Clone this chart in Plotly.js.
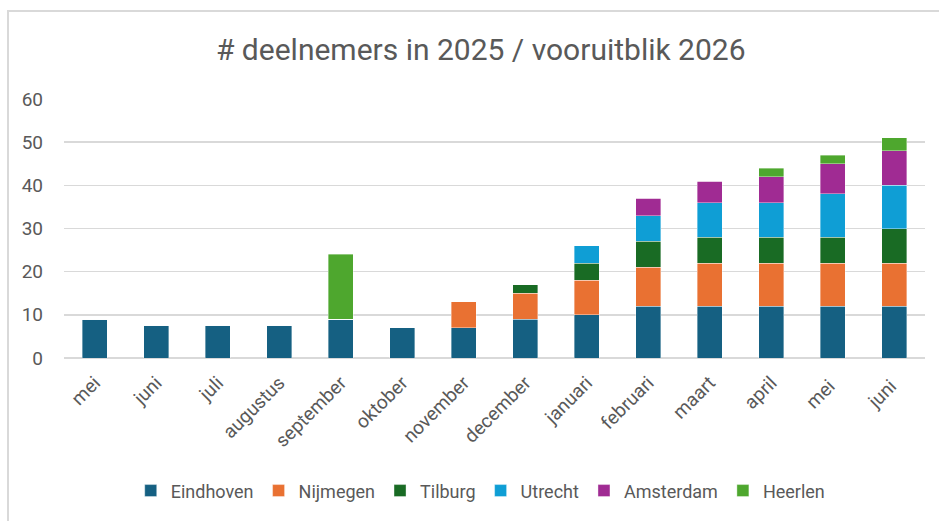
<!DOCTYPE html>
<html>
<head>
<meta charset="utf-8">
<script src="https://cdn.plot.ly/plotly-3.0.1.min.js"></script>
<style>
html,body{margin:0;padding:0;background:#fff;}
#chart{position:absolute;left:0;top:0;width:939px;height:521px;}
#frame{position:absolute;left:7px;top:10px;width:940px;height:520px;border:2px solid #d9d9d9;box-sizing:border-box;pointer-events:none;}
</style>
</head>
<body>
<div id="chart"></div>
<div id="frame"></div>
<script>
const months = ["mei","juni","juli","augustus","september","oktober","november","december","januari","februari","maart","april","mei ","juni "];
const eindhoven = [9, 7.6, 7.6, 7.6, 9, 7, 7, 9, 10, 12, 12, 12, 12, 12];
const nijmegen  = [0, 0, 0, 0, 0, 0, 6, 6, 8, 9, 10, 10, 10, 10];
const tilburg   = [0, 0, 0, 0, 0, 0, 0, 2, 4, 6, 6, 6, 6, 8];
const utrecht   = [0, 0, 0, 0, 0, 0, 0, 0, 4, 6, 8, 8, 10, 10];
const amsterdam = [0, 0, 0, 0, 0, 0, 0, 0, 0, 4, 5, 6, 7, 8];
const heerlen   = [0, 0, 0, 0, 15, 0, 0, 0, 0, 0, 0, 2, 2, 3];

const seriesNames = ["Eindhoven","Nijmegen","Tilburg","Utrecht","Amsterdam","Heerlen"];
const seriesVals = [eindhoven, nijmegen, tilburg, utrecht, amsterdam, heerlen];
const colors = ["#156082","#E97132","#196B24","#0F9ED5","#A02B93","#4EA72E"];

const traces = seriesNames.map((n,i)=>({
  type:"bar", name:n, x:months, y:seriesVals[i],
  marker:{color:colors[i], line:{color:"rgba(255,255,255,0.5)", width:0.75}},
  hoverinfo:"x+y+name"
}));

const FONT = "Aptos, Roboto, 'Liberation Sans', sans-serif";
const layout = {
  width:939, height:521,
  paper_bgcolor:"#fff", plot_bgcolor:"#fff",
  barmode:"stack", bargap:0.59,
  margin:{l:64, r:14, t:99, b:161},
  title:{text:"# deelnemers in 2025 / vooruitblik 2026", x:0.512, xanchor:"center", y:0.905, yanchor:"middle",
    font:{family:FONT, size:30, color:"#595959"}},
  xaxis:{type:"category", tickangle:-45, showgrid:false, zeroline:false, showline:false, ticks:"", automargin:false,
    ticklabelstandoff:9,
    tickfont:{family:FONT, size:19, color:"#595959"}},
  yaxis:{range:[0,60], dtick:10, showgrid:true, gridcolor:"#d9d9d9", gridwidth:1.5, zeroline:true, zerolinecolor:"#d9d9d9", zerolinewidth:1.5,
    showline:false, ticks:"", ticklabelstandoff:20, automargin:false,
    tickfont:{family:FONT, size:19, color:"#595959"}},
  showlegend:true,
  legend:{orientation:"h", x:0.484, xanchor:"center", y:-0.513, yanchor:"middle", traceorder:"normal",
    font:{family:"Roboto, sans-serif", size:18, color:"#595959"},
    itemwidth:30}
};

Plotly.newPlot("chart", traces, layout, {displayModeBar:false, staticPlot:true});
</script>
</body>
</html>
